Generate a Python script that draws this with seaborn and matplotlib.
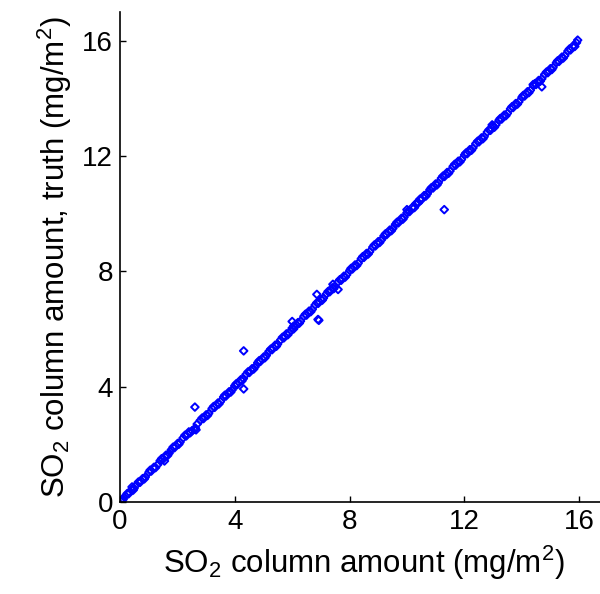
import pandas as pd
import seaborn as sns
import matplotlib.pyplot as plt

# values (retrieved vs. truth, mg/m^2)
x_main = [0.02, 0.11, 0.19, 0.30, 0.41, 0.49, 0.58, 0.70, 0.79, 0.88,
          1.01, 1.09, 1.18, 1.31, 1.40, 1.49, 1.60, 1.71, 1.79, 1.90,
          2.01, 2.09, 2.20, 2.31, 2.40, 2.51, 2.58, 2.69, 2.80, 2.91,
          3.00, 3.09, 3.21, 3.30, 3.41, 3.50, 3.61, 3.69, 3.80, 3.91,
          4.00, 4.09, 4.21, 4.30, 4.39, 4.51, 4.60, 4.71, 4.80, 4.89,
          5.01, 5.10, 5.19, 5.30, 5.41, 5.49, 5.60, 5.71, 5.80, 5.89,
          6.00, 6.11, 6.20, 6.29, 6.41, 6.50, 6.59, 6.70, 6.80, 6.91,
          7.00, 7.09, 7.20, 7.31, 7.40, 7.49, 7.60, 7.71, 7.80, 7.90,
          8.01, 8.10, 8.19, 8.30, 8.41, 8.50, 8.59, 8.70, 8.81, 8.90,
          9.00, 9.11, 9.20, 9.29, 9.40, 9.51, 9.60, 9.70, 9.81, 9.90,
          10.00, 10.09, 10.20, 10.31, 10.40, 10.49, 10.60, 10.71, 10.80, 10.91,
          11.00, 11.09, 11.20, 11.31, 11.40, 11.50, 11.61, 11.70, 11.79, 11.90,
          12.01, 12.10, 12.19, 12.30, 12.40, 12.51, 12.60, 12.69, 12.80, 12.91,
          13.00, 13.10, 13.21, 13.30, 13.39, 13.50, 13.61, 13.70, 13.79, 13.90,
          14.01, 14.10, 14.20, 14.30, 14.41, 14.50, 14.59, 14.70, 14.80, 14.91,
          15.00, 15.09, 15.21, 15.30, 15.40, 15.50, 15.61, 15.70, 15.80, 15.91]
y_main = [0.03, 0.09, 0.21, 0.28, 0.43, 0.47, 0.60, 0.68, 0.81, 0.86,
          1.03, 1.07, 1.20, 1.29, 1.43, 1.47, 1.62, 1.69, 1.81, 1.88,
          2.03, 2.07, 2.22, 2.29, 2.43, 2.47, 2.52, 2.70, 2.83, 2.89,
          3.02, 3.07, 3.24, 3.28, 3.43, 3.48, 3.64, 3.67, 3.82, 3.89,
          4.03, 4.07, 4.24, 4.28, 4.42, 4.49, 4.62, 4.69, 4.83, 4.87,
          5.03, 5.08, 5.22, 5.28, 5.44, 5.47, 5.62, 5.69, 5.83, 5.87,
          6.03, 6.09, 6.22, 6.27, 6.44, 6.48, 6.62, 6.68, 6.83, 6.89,
          7.03, 7.07, 7.22, 7.29, 7.43, 7.47, 7.63, 7.69, 7.83, 7.88,
          8.03, 8.08, 8.22, 8.28, 8.44, 8.48, 8.62, 8.68, 8.84, 8.88,
          9.03, 9.09, 9.23, 9.27, 9.43, 9.49, 9.63, 9.68, 9.84, 9.88,
          10.03, 10.07, 10.23, 10.34, 10.38, 10.47, 10.63, 10.69, 10.83, 10.89,
          11.03, 11.07, 11.23, 11.29, 11.43, 11.48, 11.64, 11.68, 11.82, 11.88,
          12.04, 12.08, 12.22, 12.28, 12.43, 12.49, 12.63, 12.67, 12.83, 12.89,
          13.04, 13.08, 13.24, 13.28, 13.42, 13.48, 13.64, 13.68, 13.82, 13.88,
          14.04, 14.08, 14.23, 14.28, 14.44, 14.48, 14.62, 14.68, 14.83, 14.89,
          15.03, 15.07, 15.24, 15.28, 15.43, 15.48, 15.64, 15.68, 15.83, 15.93]

# second pass of samples in the band (fills it in)
x_mid = [0.06, 0.25, 0.46, 0.64, 0.85, 1.05, 1.24, 1.45, 1.66, 1.85,
         2.05, 2.26, 2.45, 2.63, 2.86, 3.05, 3.26, 3.45, 3.65, 3.86,
         4.05, 4.25, 4.46, 4.66, 4.85, 5.05, 5.25, 5.45, 5.66, 5.85,
         6.05, 6.25, 6.46, 6.65, 6.86, 7.05, 7.25, 7.45, 7.66, 7.85,
         8.05, 8.25, 8.46, 8.65, 8.86, 9.05, 9.25, 9.46, 9.65, 9.86,
         10.05, 10.26, 10.45, 10.66, 10.85, 11.05, 11.25, 11.45, 11.66, 11.85,
         12.05, 12.25, 12.46, 12.65, 12.86, 13.05, 13.25, 13.45, 13.66, 13.85,
         14.05, 14.25, 14.46, 14.65, 14.86, 15.05, 15.25, 15.45, 15.66, 15.85]
y_mid = [0.02, 0.29, 0.41, 0.69, 0.80, 1.10, 1.19, 1.50, 1.61, 1.90,
         2.00, 2.31, 2.40, 2.56, 2.91, 3.00, 3.31, 3.40, 3.70, 3.81,
         4.10, 4.20, 4.51, 4.61, 4.90, 5.00, 5.30, 5.40, 5.71, 5.80,
         6.10, 6.20, 6.51, 6.60, 6.91, 7.00, 7.30, 7.40, 7.71, 7.80,
         8.10, 8.20, 8.51, 8.60, 8.91, 9.00, 9.30, 9.41, 9.70, 9.81,
         10.10, 10.21, 10.50, 10.61, 10.90, 11.00, 11.30, 11.40, 11.71, 11.80,
         12.10, 12.20, 12.51, 12.60, 12.91, 13.00, 13.30, 13.40, 13.71, 13.80,
         14.10, 14.20, 14.51, 14.60, 14.91, 15.00, 15.30, 15.40, 15.71, 15.80]

# scattered points off the main band
x_off = [0.42, 1.55, 2.61, 2.65, 4.31, 4.31, 6.00, 6.05, 6.86, 6.90, 6.93,
         7.42, 7.60, 10.00, 10.35, 11.30, 12.97, 14.40, 14.70, 15.95]
y_off = [0.52, 1.42, 3.29, 2.50, 5.24, 3.92, 6.26, 6.00, 7.20, 6.33, 6.30,
         7.55, 7.37, 10.14, 10.38, 10.14, 13.08, 14.48, 14.40, 16.02]

ticks = [0, 4, 8, 12, 16]

df = pd.DataFrame({"retrieved": x_main + x_mid + x_off,
                   "truth": y_main + y_mid + y_off})

sns.set_style("ticks")
plt.rcParams["font.family"] = ["Liberation Sans", "DejaVu Sans"]
plt.rcParams["mathtext.fontset"] = "custom"
plt.rcParams["mathtext.rm"] = "Liberation Sans"
plt.rcParams["mathtext.it"] = "Liberation Sans:italic"
plt.rcParams["text.color"] = "black"
plt.rcParams["axes.labelcolor"] = "black"

fig = plt.figure(figsize=(6, 5.94), dpi=100)
ax = fig.add_axes([0.2, 0.155, 0.813, 0.825])

sns.scatterplot(data=df, x="retrieved", y="truth", ax=ax, marker="D", s=15,
                facecolors="none", edgecolor="#0000ff", linewidth=1.4)

ax.set_xlim(0, 17)
ax.set_ylim(0, 17)
ax.set_xticks(ticks)
ax.set_yticks(ticks)
ax.tick_params(direction="in", length=4, width=1, labelsize=20,
               colors="black", pad=5)
sns.despine(ax=ax)
for s in ["left", "bottom"]:
    ax.spines[s].set_linewidth(1.2)
    ax.spines[s].set_color("black")

ax.set_xlabel(r"SO$_2$ column amount (mg/m$^2$)", fontsize=22.5, labelpad=6)
ax.set_ylabel(r"SO$_2$ column amount, truth (mg/m$^2$)", fontsize=22.5,
              labelpad=6)

fig.savefig("out.png", dpi=100)
